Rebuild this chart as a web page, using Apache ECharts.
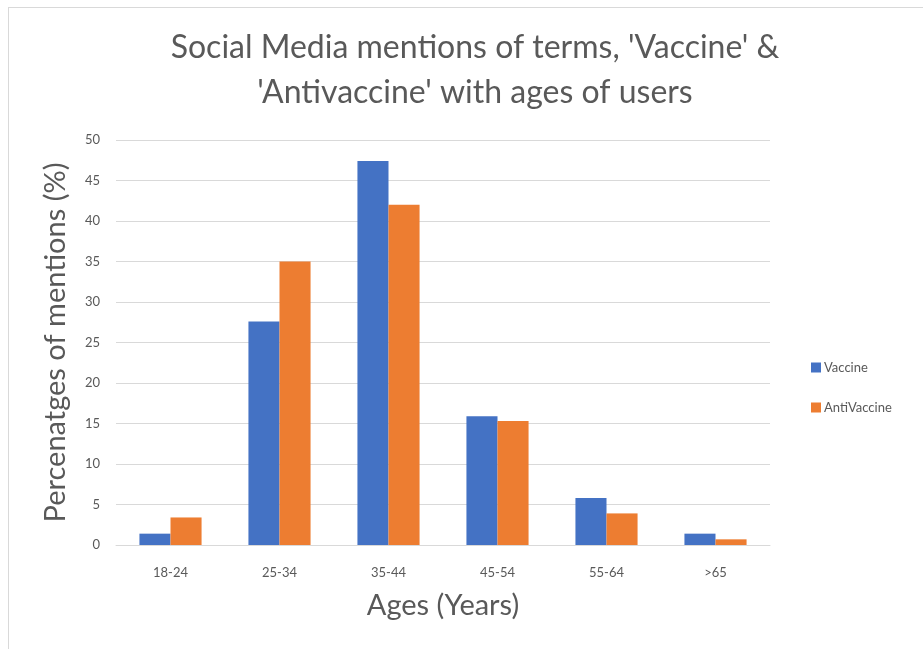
<!DOCTYPE html>
<html>
<head>
<meta charset="utf-8">
<script src="https://cdn.jsdelivr.net/npm/echarts@6/dist/echarts.min.js"></script>
<style>
  html, body { margin: 0; padding: 0; background: #fff; }
  #frame { position: absolute; left: 8px; top: 7px; width: 940px; height: 660px; border: 1px solid #d9d9d9; }
  #chart { position: absolute; left: 0; top: 0; width: 923px; height: 649px; }
</style>
</head>
<body>
<div id="frame"></div>
<div id="chart"></div>
<script>
// age groups and % of mentions
const ages = ['18-24', '25-34', '35-44', '45-54', '55-64', '>65'];
const vaccine = [1.4, 27.6, 47.4, 15.9, 5.8, 1.4];
const antiVaccine = [3.4, 35.0, 42.0, 15.3, 3.9, 0.7];
const yTicks = { min: 0, max: 50, interval: 5 };

const font = 'Lato, "Open Sans", sans-serif';
const grey = '#595959';

const chart = echarts.init(document.getElementById('chart'));
const option = {
  title: {
    text: "Social Media mentions of terms, 'Vaccine' &\n'Antivaccine' with ages of users",
    left: 470,
    textAlign: 'center',
    top: 20,
    textStyle: { fontFamily: font, fontSize: 32, fontWeight: 'normal', color: grey, lineHeight: 45 }
  },
  legend: {
    orient: 'vertical',
    left: 806,
    top: 356,
    itemWidth: 10,
    itemHeight: 10,
    itemGap: 27,
    icon: 'rect',
    data: ['Vaccine', 'AntiVaccine'],
    textStyle: { fontFamily: font, fontSize: 13, color: grey, padding: [0, 0, 0, -2] }
  },
  grid: { left: 116, right: 153, top: 140, bottom: 104 },
  xAxis: {
    type: 'category',
    data: ages,
    name: 'Ages (Years)',
    nameLocation: 'middle',
    nameGap: 46,
    nameTextStyle: { fontFamily: font, fontSize: 29, color: grey },
    axisTick: { show: false },
    axisLine: { lineStyle: { color: '#d9d9d9', width: 1 } },
    axisLabel: { fontFamily: font, fontSize: 13, color: grey, margin: 21 }
  },
  yAxis: {
    type: 'value',
    min: yTicks.min,
    max: yTicks.max,
    interval: yTicks.interval,
    name: 'Percenatges of mentions (%)',
    nameLocation: 'middle',
    nameGap: 46,
    nameTextStyle: { fontFamily: font, fontSize: 29, color: grey },
    axisLine: { show: false },
    axisTick: { show: false },
    axisLabel: { fontFamily: font, fontSize: 13, color: grey, margin: 16 },
    splitLine: { lineStyle: { color: '#d9d9d9', width: 1 } }
  },
  series: [
    {
      name: 'Vaccine',
      type: 'bar',
      data: vaccine,
      barGap: '0%',
      barCategoryGap: '43%',
      itemStyle: { color: '#4472C4' }
    },
    {
      name: 'AntiVaccine',
      type: 'bar',
      data: antiVaccine,
      itemStyle: { color: '#ED7D31' }
    }
  ]
};
chart.setOption(option);
</script>
</body>
</html>
